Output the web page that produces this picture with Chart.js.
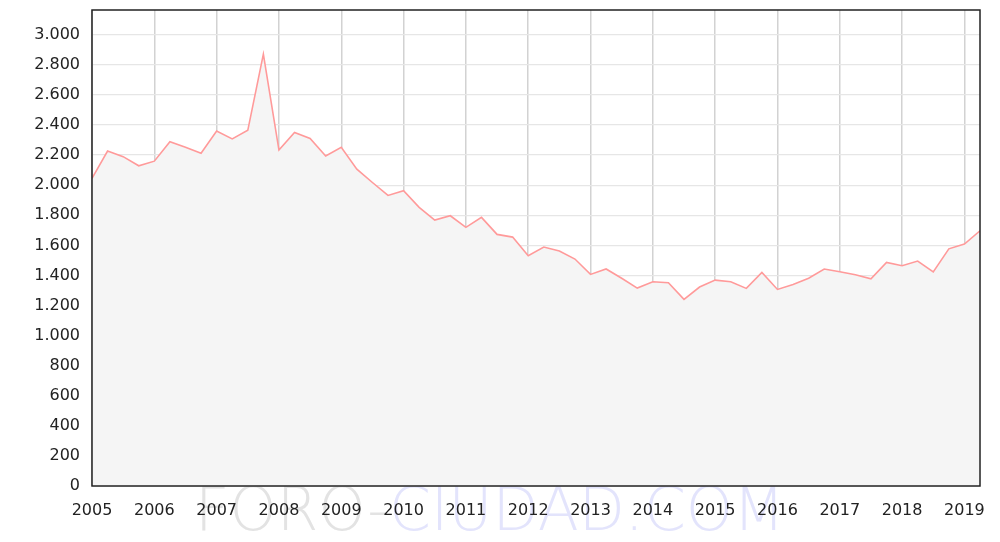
<!DOCTYPE html>
<html>
<head>
<meta charset="utf-8">
<script src="https://cdn.jsdelivr.net/npm/chart.js@4"></script>
<style>
  html, body { margin: 0; padding: 0; background: #fff; }
  #plot { display: block; }
</style>
</head>
<body>
<canvas id="plot" width="1000" height="542"></canvas>
<script>
// Datos trimestrales, desde el primer trimestre de 2005
let anioInicial = 2005
let trimestres = ['T1', 'T2', 'T3', 'T4']
let valores = [
  2045, 2227, 2190, 2129,
  2160, 2289, 2252, 2212,
  2360, 2308, 2365, 2872,
  2234, 2351, 2311, 2194,
  2252, 2107, 2018, 1932,
  1963, 1853, 1768, 1797,
  1720, 1786, 1673, 1655,
  1531, 1589, 1562, 1509,
  1407, 1443, 1381, 1316,
  1358, 1352, 1241, 1323,
  1369, 1358, 1314, 1420,
  1307, 1340, 1381, 1443,
  1425, 1405, 1378, 1487,
  1465, 1496, 1423, 1577,
  1609, 1697
]
let aniosEje = [2005, 2006, 2007, 2008, 2009, 2010, 2011, 2012, 2013, 2014, 2015, 2016, 2017, 2018, 2019]
let valoresEje = [0, 200, 400, 600, 800, 1000, 1200, 1400, 1600, 1800, 2000, 2200, 2400, 2600, 2800, 3000]

// Puntos (x = año + fracción del trimestre)
let puntos = valores.map((v, i) => ({ x: anioInicial + Math.floor(i / 4) + (i % 4) / trimestres.length, y: v }))

let formatoMiles = (v) => String(v).replace(/\B(?=(\d{3})+(?!\d))/g, '.')

// Marca de agua y borde del área del gráfico
let pluginMarco = {
  id: 'marco',
  beforeDraw: (chart) => {
    let ctx = chart.ctx
    ctx.save()
    ctx.font = '200 60px "DejaVu Sans"'
    ctx.textBaseline = 'alphabetic'
    let x = 195
    let y = 530
    ctx.fillStyle = '#e3e3e3'
    ctx.fillText('FORO-', x, y)
    x += ctx.measureText('FORO-').width
    ctx.fillStyle = '#e3e4fc'
    ctx.fillText('CIUDAD.COM', x, y)
    ctx.restore()
  },
  afterDraw: (chart) => {
    let a = chart.chartArea
    let ctx = chart.ctx
    ctx.save()
    ctx.strokeStyle = '#222'
    ctx.lineWidth = 1.5
    ctx.strokeRect(a.left, a.top, a.right - a.left, a.bottom - a.top)
    ctx.restore()
  }
}

let plotRef = document.getElementById('plot')

let config = {
  type: 'line',
  data: {
    datasets: [
      {
        label: 'Valor',
        data: puntos,
        borderColor: '#ff9a9a',
        borderWidth: 1.6,
        backgroundColor: '#f5f5f5',
        fill: 'origin',
        pointRadius: 0,
        tension: 0
      }
    ]
  },
  options: {
    responsive: false,
    animation: false,
    devicePixelRatio: 1,
    layout: { padding: { top: 10, right: 20, left: 0, bottom: 0 } },
    plugins: {
      legend: { display: false },
      tooltip: { enabled: false }
    },
    scales: {
      x: {
        type: 'linear',
        min: 2005,
        max: 2019.25,
        afterFit: (scale) => { scale.height = 56; scale.paddingLeft = 0; scale.paddingRight = 0 },
        afterBuildTicks: (scale) => { scale.ticks = aniosEje.map(v => ({ value: v })) },
        grid: { color: '#d2d2d2', lineWidth: 1.5, drawTicks: false },
        border: { display: false },
        ticks: {
          includeBounds: false,
          padding: 15,
          maxRotation: 0,
          autoSkip: false,
          color: '#222',
          font: { family: '"DejaVu Sans"', size: 16 },
          callback: (v) => String(v)
        }
      },
      y: {
        min: 0,
        max: 3165,
        afterFit: (scale) => { scale.width = 92; scale.paddingTop = 0; scale.paddingBottom = 0 },
        afterBuildTicks: (scale) => { scale.ticks = valoresEje.map(v => ({ value: v })) },
        grid: { color: '#e6e6e6', lineWidth: 1.3, drawTicks: false },
        border: { display: false },
        ticks: {
          includeBounds: false,
          padding: 12,
          color: '#222',
          font: { family: '"DejaVu Sans"', size: 16 },
          callback: (v) => formatoMiles(v)
        }
      }
    }
  },
  plugins: [pluginMarco]
}

let chart1 = new Chart(plotRef, config)
</script>
</body>
</html>
